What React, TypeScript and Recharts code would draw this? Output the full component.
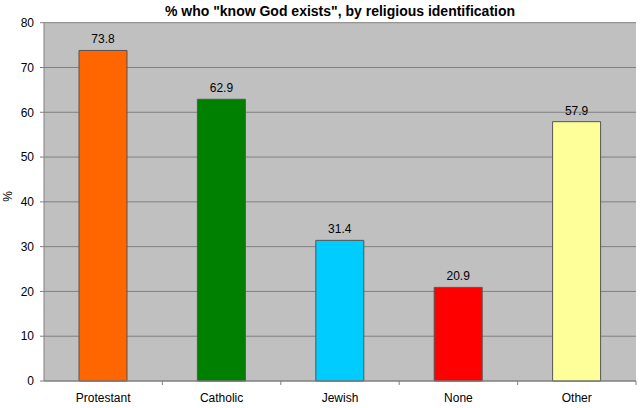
import { BarChart, Bar, XAxis, YAxis, CartesianGrid, Cell, LabelList, Label } from 'recharts';

const categories = ['Protestant', 'Catholic', 'Jewish', 'None', 'Other'];
const values = [73.8, 62.9, 31.4, 20.9, 57.9];
const colors = ['#FF6600', '#008000', '#00CCFF', '#FF0000', '#FFFF99'];
const yTicks = [0, 10, 20, 30, 40, 50, 60, 70, 80];

const data = categories.map((name, i) => ({ name, value: values[i] }));

const FONT = '"Liberation Sans", Arial, sans-serif';
const BAND = 118.4;

function XTick(props: any) {
  const { x, y, payload, index } = props;
  const half = BAND / 2;
  return (
    <g>
      {index > 0 && (
        <line x1={x - half} x2={x - half} y1={y} y2={y + 4} stroke="#808080" />
      )}
      {index === categories.length - 1 && (
        <line x1={x + half} x2={x + half} y1={y} y2={y + 4} stroke="#808080" />
      )}
      <text x={x} y={y + 17} dy="0.355em" textAnchor="middle" fontSize={12} fill="#000" fontFamily={FONT}>
        {payload.value}
      </text>
    </g>
  );
}

export default function App() {
  return (
    <div style={{ position: 'absolute', left: 0, top: 0, width: 640, height: 408, background: '#fff', fontFamily: FONT }}>
      <div
        style={{
          position: 'absolute',
          left: 44,
          width: 592,
          top: 3,
          textAlign: 'center',
          fontWeight: 'bold',
          fontSize: 14,
          color: '#000',
        }}
      >
        % who "know God exists", by religious identification
      </div>
      <BarChart
        width={640}
        height={408}
        data={data}
        margin={{ top: 22.7, right: 4, left: 0, bottom: 0 }}
        barSize={48}
      >
        <CartesianGrid fill="#C0C0C0" stroke="#808080" vertical={false} />
        <XAxis
          dataKey="name"
          height={27}
          stroke="#808080"
          tickLine={false}
          tickSize={0}
          tickMargin={0}
          tick={<XTick />}
          interval={0}
        />
        <YAxis
          width={44}
          domain={[0, 80]}
          ticks={yTicks}
          stroke="#808080"
          tickSize={4}
          tickMargin={6}
          tick={{ fill: '#000', fontSize: 12, fontFamily: FONT }}
          interval={0}
        >
          <Label value="%" angle={-90} position="insideLeft" offset={8} style={{ fill: '#000', fontSize: 12, fontFamily: FONT }} />
        </YAxis>
        <Bar dataKey="value" stroke="#555555" strokeWidth={1} isAnimationActive={false}>
          {data.map((d, i) => (
            <Cell key={d.name} fill={colors[i]} />
          ))}
          <LabelList dataKey="value" position="top" offset={7} fill="#000" fontSize={12} fontFamily={FONT} />
        </Bar>
      </BarChart>
    </div>
  );
}
